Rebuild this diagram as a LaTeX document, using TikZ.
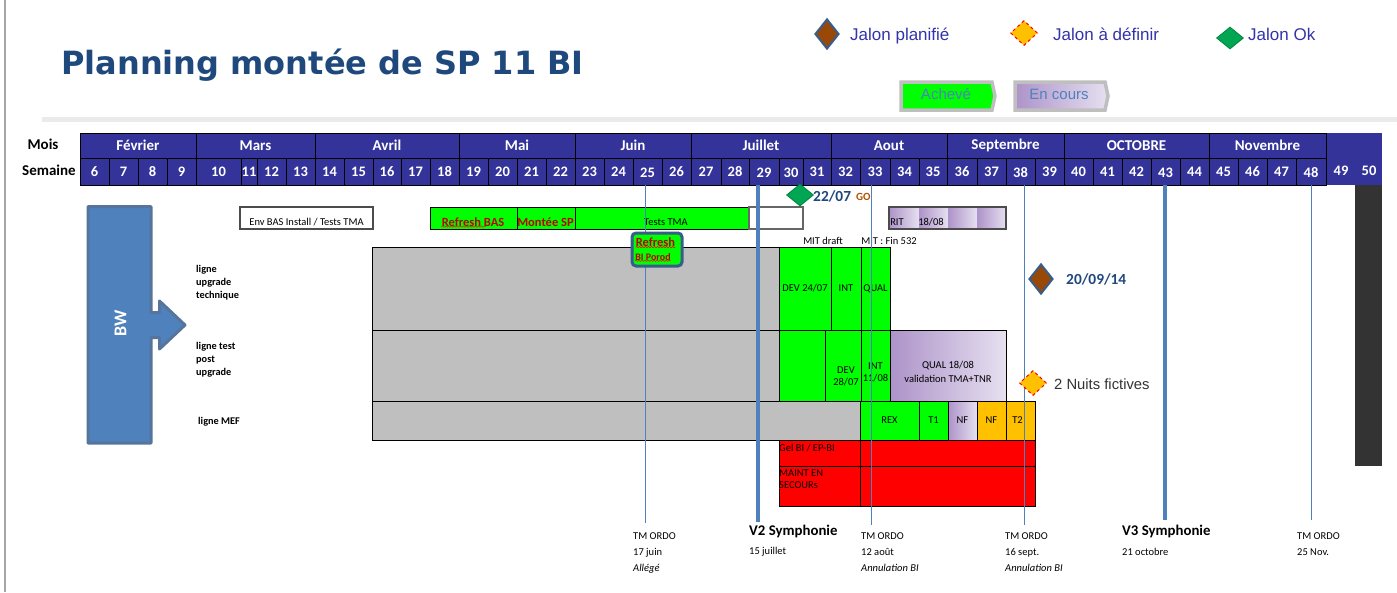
\documentclass[tikz,border=0pt]{standalone}
\usepackage{fontspec}
\setmainfont{Carlito}
\newfontfamily\legendfont{Liberation Sans}
\newfontfamily\titlefont{DejaVu Sans}
\usepackage{xcolor}
\usetikzlibrary{arrows.meta, positioning, calc, shapes.geometric, decorations.pathmorphing}
\definecolor{headblue}{RGB}{51, 51, 153}
\definecolor{titleblue}{RGB}{31, 73, 125}
\definecolor{legendblue}{RGB}{51, 51, 170}
\definecolor{shapeblue}{RGB}{79, 129, 189}
\definecolor{edgeblue}{RGB}{56, 93, 138}
\definecolor{barorange}{RGB}{255, 192, 0}
\definecolor{barbrown}{RGB}{152, 72, 7}
\definecolor{okgreen}{RGB}{0, 166, 81}
\definecolor{darkbar}{RGB}{51, 51, 51}
\definecolor{purpleleft}{RGB}{173, 147, 201}
\definecolor{purpleright}{RGB}{230, 224, 240}
\tikzset{
  planbox/.style={draw=black, line width=0.9pt, inner sep=0pt, outer sep=0pt, align=center, font=\fontsize{10.5}{13}\selectfont},
  greenbox/.style={planbox, fill=green},
  greybox/.style={planbox, fill=black!25},
  redbox/.style={planbox, fill=red},
  orangebox/.style={planbox, fill=barorange},
  purplebox/.style={planbox, left color=purpleleft, right color=purpleright},
  headcell/.style={planbox, draw=black, fill=headblue, text=white, font=\fontsize{14.5}{14.5}\bfseries\selectfont},
  monthcell/.style={headcell, font=\fontsize{15}{15}\bfseries\selectfont},
  smalltxt/.style={inner sep=0pt, font=\fontsize{10.5}{12}\selectfont},
  rowtxt/.style={inner sep=0pt, align=left, anchor=north west, font=\fontsize{10.3}{12.8}\bfseries\selectfont},
  foottxt/.style={inner sep=0pt, align=left, anchor=north west, font=\fontsize{10.5}{16}\selectfont},
  symphtxt/.style={inner sep=0pt, anchor=west, font=\fontsize{14.8}{15}\bfseries\selectfont},
  redtxt/.style={inner sep=0pt, text=red!75!black, font=\fontsize{12.5}{13}\bfseries\selectfont},
  legendtxt/.style={inner sep=0pt, anchor=base west, text=legendblue, font=\fontsize{17}{18}\legendfont\selectfont},
  jalondate/.style={inner sep=0pt, anchor=west, text=titleblue, font=\fontsize{15.4}{16}\bfseries\selectfont},
  planned/.style={diamond, inner sep=0pt, fill=barbrown, draw=edgeblue, line width=2pt, minimum width=24pt, minimum height=30pt},
  tbd/.style={diamond, inner sep=0pt, fill=barorange, draw=red, dashed, line width=1pt, minimum width=27pt, minimum height=25pt},
  okjalon/.style={diamond, inner sep=0pt, fill=okgreen, draw=okgreen!80!black, line width=0.8pt, minimum width=27pt, minimum height=22pt},
  statusbox/.style={draw=black!25, line width=3.5pt, line join=miter},
  spellmark/.style={red, line width=0.5pt, decorate, decoration={snake, amplitude=0.7pt, segment length=3pt}},
  thinmark/.style={shapeblue, line width=1pt},
  thickmark/.style={shapeblue, line width=3.5pt}
}
\newcommand{\planrect}[7]{%
  \pgfmathsetmacro{\rectw}{#4-#3}%
  \pgfmathsetmacro{\recth}{#6-#5}%
  \node[#2, minimum width=\rectw pt, minimum height=\recth pt, anchor=north west] (#1) at (#3,#5) {#7};%
}
\newcommand{\lowtxt}[2]{\raisebox{-#1pt}[\height][\depth]{#2}}
\begin{document}
\begin{tikzpicture}[x=1pt, y=-1pt, >=Stealth]
  \useasboundingbox (0,0) rectangle (1397,592);
  \fill[white] (0,0) rectangle (1397,592);
  \draw[black!35, line width=2pt] (5,0) -- (5,592);
  \draw[black!8, line width=4.5pt] (42,119.5) -- (1397,119.5);

  \node[inner sep=0pt, anchor=base west, text=titleblue, font=\fontsize{32}{34}\titlefont\bfseries\selectfont] (title) at (61,74.5) {Planning montée de SP 11 BI};

  \node[planned] (legplan) at (827,34) {};
  \node[legendtxt] (legplantxt) at (850,40) {Jalon planifié};
  \node[tbd] (legtbd) at (1024,33) {};
  \node[legendtxt] (legtbdtxt) at (1053,40) {Jalon à définir};
  \node[okjalon] (legok) at (1230,38) {};
  \node[legendtxt] (legoktxt) at (1248,40) {Jalon Ok};

  \draw[statusbox, fill=green] (901,82) -- (992,82) -- (995,96) -- (992,110) -- (901,110) -- cycle;
  \node[inner sep=0pt, text=shapeblue, font=\fontsize{15}{16}\legendfont\selectfont] (doneleg) at (946,94) {Achevé};
  \draw[statusbox, left color=purpleleft, right color=purpleright] (1015,82) -- (1105,82) -- (1108,96) -- (1105,110) -- (1015,110) -- cycle;
  \node[inner sep=0pt, text=shapeblue, font=\fontsize{15}{16}\legendfont\selectfont] (runleg) at (1059,94) {En cours};

  \fill[headblue] (1326,133) rectangle (1382,185);
  \fill[darkbar] (1355,185) rectangle (1382,466);
  \node[inner sep=0pt, font=\fontsize{15}{15}\bfseries\selectfont] (moislab) at (43,144) {Mois};
  \node[inner sep=0pt, font=\fontsize{15}{15}\bfseries\selectfont] (semlab) at (49,170.5) {Semaine};

  \foreach \ma/\mb/\mn in {80/196/Février, 196/315/Mars, 315/459/Avril, 459/575/Mai, 575/691/Juin, 691/831/Juillet, 831/947/Aout, 947/1064/Septembre, 1064/1209/OCTOBRE, 1209/1326/Novembre} {
    \planrect{m\mn}{monthcell}{\ma}{\mb}{133}{158}{\mn}
  }
  \foreach \wa/\wb/\wn/\wlow in {80/109/6/0, 109/138/7/0, 138/167/8/0, 167/196/9/0, 196/241/10/0, 241/257/11/0, 257/286/12/0, 286/315/13/0, 315/344/14/0, 344/373/15/0, 373/401/16/0, 401/430/17/0, 430/459/18/0, 459/488/19/0, 488/517/20/0, 517/546/21/0, 546/575/22/0, 575/604/23/0, 604/633/24/0, 633/662/25/1.5, 662/691/26/0, 691/721/27/0, 721/749/28/0, 749/779/29/1.5, 779/803/30/1.5, 803/831/31/0, 831/860/32/0, 860/890/33/0, 890/919/34/0, 919/947/35/0, 947/977/36/0, 977/1006/37/0, 1006/1035/38/1.5, 1035/1064/39/0, 1064/1093/40/0, 1093/1122/41/0, 1122/1151/42/0, 1151/1180/43/1.5, 1180/1209/44/0, 1209/1238/45/0, 1238/1267/46/0, 1267/1296/47/0, 1296/1326/48/1.5} {
    \planrect{w\wn}{headcell}{\wa}{\wb}{158}{185}{\lowtxt{\wlow}{\wn}}
  }
  \node[inner sep=0pt, text=white, font=\fontsize{14.5}{14.5}\bfseries\selectfont] (w49) at (1341,171) {49};
  \node[inner sep=0pt, text=white, font=\fontsize{14.5}{14.5}\bfseries\selectfont] (w50) at (1369,171) {50};

  \draw[edgeblue!85, fill=shapeblue, line width=3pt, line join=round] (88,206.5) -- (151,206.5) -- (151,312.5) -- (159.5,312.5) -- (159.5,301) -- (185,325) -- (159.5,349) -- (159.5,337.5) -- (151,337.5) -- (151,443) -- (88,443) -- cycle;
  \node[inner sep=0pt, rotate=90, text=white, font=\fontsize{18}{18}\bfseries\selectfont] (bw) at (120.5,323.5) {BW};

  \node[rowtxt] (rowa) at (196,265.5) {ligne\\upgrade\\technique};
  \node[rowtxt] (rowb) at (196,342) {ligne test\\post\\upgrade};
  \node[rowtxt] (rowc) at (198,417) {ligne MEF};

  \planrect{env}{planbox, draw=black!70, line width=1.2pt, fill=white}{240}{373}{207}{229}{\lowtxt{4}{Env BAS Install / Tests TMA}}
  \planrect{refbas}{greenbox}{430}{517}{207}{229}{}
  \planrect{montee}{greenbox}{517}{575}{207}{229}{}
  \planrect{tests}{greenbox}{575}{749}{207}{229}{\lowtxt{4}{\hspace*{8pt}Tests TMA}}
  \planrect{rest}{planbox, draw=black!60, line width=1.2pt, fill=white}{749}{803}{207}{229}{}
  \node[redtxt] (refbastxt) at (473,222) {Refresh BAS};
  \node[redtxt] (monteetxt) at (545.5,222) {Montée SP};
  \draw[spellmark] (refbastxt.south west) -- ($(refbastxt.south west)!0.7!(refbastxt.south east)$);

  \planrect{ritone}{purplebox, draw=none}{889}{919}{207}{229}{}
  \planrect{rittwo}{purplebox, draw=none}{919}{948}{207}{229}{}
  \planrect{ritthree}{purplebox, draw=none}{948}{977}{207}{229}{}
  \planrect{ritfour}{purplebox, draw=none}{977}{1006}{207}{229}{}
  \draw[black!70, line width=1.2pt] (ritone.north west) rectangle (ritfour.south east);
  \node[smalltxt] (rittxt) at (897,222) {RIT};
  \node[smalltxt] (ritdate) at (931,222) {18/08};

  \node[smalltxt] (mitdraft) at (823,241) {MIT draft};
  \node[smalltxt] (mitfin) at (889,241) {MIT : Fin 532};

  \planrect{greya}{greybox}{372}{779}{247}{330}{}
  \planrect{greyb}{greybox}{372}{779}{330}{401}{}
  \planrect{greyc}{greybox}{372}{860}{401}{440}{}
  \planrect{deva}{greenbox}{779}{831}{247}{330}{DEV 24/07}
  \planrect{inta}{greenbox}{831}{861}{247}{330}{INT}
  \planrect{quala}{greenbox}{861}{890}{247}{330}{QUAL}
  \planrect{devb}{greenbox}{779}{825}{330}{401}{}
  \planrect{devc}{greenbox}{825}{861}{330}{401}{}
  \planrect{intb}{greenbox}{861}{890}{330}{401}{}
  \planrect{qualb}{purplebox}{890}{1006}{330}{401}{}
  \node[smalltxt, align=center] (devtxt) at (846,376) {DEV\\28/07};
  \node[smalltxt, align=center] (inttxt) at (875.5,372.5) {INT\\11/08};
  \node[smalltxt, align=center, font=\fontsize{10.5}{13.5}\selectfont] (qualtxt) at (948,372) {QUAL 18/08\\validation TMA+TNR};
  \planrect{rex}{greenbox}{860}{919}{401}{440}{REX}
  \planrect{tone}{greenbox}{919}{948}{401}{440}{T1}
  \planrect{nfa}{purplebox}{948}{977}{401}{440}{NF}
  \planrect{nfb}{orangebox}{977}{1006}{401}{440}{NF}
  \planrect{ttwo}{orangebox}{1006}{1035}{401}{440}{\hspace*{-6pt}T2}
  \planrect{gela}{redbox}{779}{860}{440}{466}{}
  \planrect{gelb}{redbox}{860}{1035}{440}{466}{}
  \planrect{secoa}{redbox}{779}{860}{466}{506}{}
  \planrect{secob}{redbox}{860}{1035}{466}{506}{}
  \node[smalltxt, anchor=west] (geltxt) at (779,448) {Gel BI / EP-BI};
  \node[smalltxt, anchor=west] (mainttxt) at (779,473) {MAINT EN};
  \node[smalltxt, anchor=west] (secotxt) at (779,485) {SECOURs};
  \draw[spellmark] (secotxt.south west) -- (secotxt.south east);

  \foreach \ln/\lx/\ly/\ls in {25/645/523/thinmark, 29/758/522/thickmark, 33/871/525/thinmark, 38/1024/525/thinmark, 43/1165/520/thickmark, 48/1311/520/thinmark} {
    \coordinate (e\ln) at (\lx,\ly);
    \draw[\ls] (w\ln.south -| e\ln) -- (e\ln);
  }

  \node[draw=edgeblue, line width=3pt, rounded corners=4pt, fill=green, minimum width=50pt, minimum height=33pt, inner sep=0pt] (refbox) at (657,249.5) {};
  \node[redtxt] (reftxt) at (655.5,242.5) {Refresh};
  \node[redtxt, font=\fontsize{10}{11}\bfseries\selectfont] (portxt) at (653,257) {BI Porod};
  \draw[spellmark] (reftxt.south west) -- (reftxt.south east);
  \draw[spellmark] (portxt.south west) -- (portxt.south east);

  \node[okjalon] (gojalon) at (800,195) {};
  \node[jalondate] (godate) at (813,196) {22/07};
  \node[inner sep=0pt, anchor=west, text=barbrown!80!orange, font=\fontsize{11}{12}\bfseries\selectfont] (gotxt) at (856,197) {GO};
  \node[planned] (planjalon) at (1041,279) {};
  \node[jalondate] (plandate) at (1066,279) {20/09/14};
  \node[tbd] (tbdjalon) at (1033,383) {};
  \node[inner sep=0pt, anchor=west, text=black!80, font=\fontsize{14.8}{15}\legendfont\selectfont] (nuits) at (1054,384) {2 Nuits fictives};

  \node[foottxt] (ordoa) at (633,532.5) {TM ORDO\\17 juin\\\textit{Allégé}};
  \node[symphtxt] (vtwo) at (749,531) {V2 Symphonie};
  \node[smalltxt, anchor=west] (vtwod) at (749,552) {15 juillet};
  \node[foottxt] (ordob) at (861,532.5) {TM ORDO\\12 août\\\textit{Annulation BI}};
  \node[foottxt] (ordoc) at (1005,532.5) {TM ORDO\\16 sept.\\\textit{Annulation BI}};
  \node[symphtxt] (vthree) at (1122,531) {V3 Symphonie};
  \node[smalltxt, anchor=west] (vthreed) at (1122,552) {21 octobre};
  \node[foottxt] (ordod) at (1297,532.5) {TM ORDO\\25 Nov.};
\end{tikzpicture}
\end{document}
